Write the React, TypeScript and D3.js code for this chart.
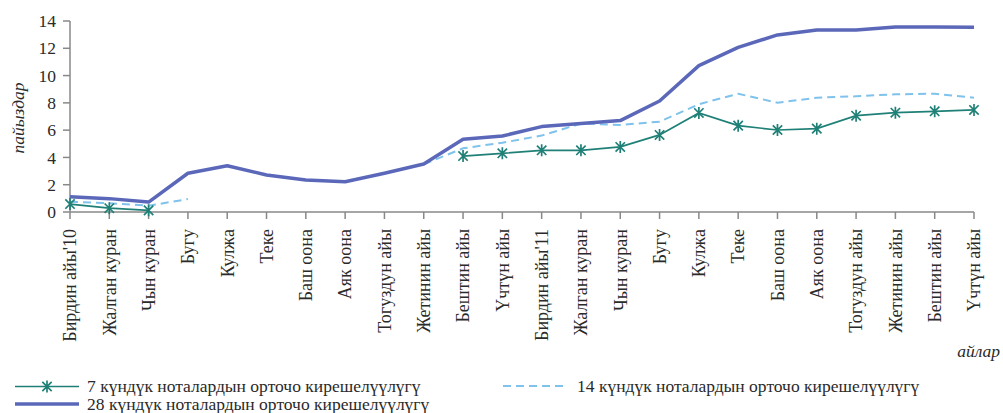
import React from "react";
import * as d3 from "d3";

const months: string[] = [
  "Бирдин айы'10", "Жалган куран", "Чын куран", "Бугу", "Кулжа", "Теке",
  "Баш оона", "Аяк оона", "Тогуздун айы", "Жетинин айы", "Бештин айы", "Үчтүн айы",
  "Бирдин айы'11", "Жалган куран", "Чын куран", "Бугу", "Кулжа", "Теке",
  "Баш оона", "Аяк оона", "Тогуздун айы", "Жетинин айы", "Бештин айы", "Үчтүн айы",
];

const yield7: (number | null)[] = [
  0.58, 0.28, 0.12, null, null, null, null, null, null, null,
  4.1, 4.3, 4.52, 4.52, 4.77, 5.65, 7.26, 6.33, 6.01, 6.11, 7.06, 7.28, 7.38, 7.48,
];

const yield14: (number | null)[] = [
  0.76, 0.64, 0.46, 0.95, null, null, null, null, null, 3.5,
  4.67, 5.08, 5.6, 6.48, 6.38, 6.62, 7.9, 8.67, 8.01, 8.38, 8.48, 8.63, 8.67, 8.38,
];

const yield28: number[] = [
  1.12, 0.98, 0.73, 2.84, 3.39, 2.71, 2.35, 2.22, 2.84, 3.52,
  5.33, 5.57, 6.26, 6.48, 6.7, 8.14, 10.73, 12.07, 12.98, 13.34, 13.34, 13.56, 13.56, 13.54,
];

const yTicks: number[] = [0, 2, 4, 6, 8, 10, 12, 14];

const legend7 = "7 күндүк ноталардын орточо кирешелүүлүгү";
const legend14 = "14 күндүк ноталардын орточо кирешелүүлүгү";
const legend28 = "28 күндүк ноталардын орточо кирешелүүлүгү";
const yTitle = "пайыздар";
const xTitle = "айлар";

const W = 1003;
const H = 413;
const FONT = "Liberation Serif";
const C7 = "#1f8077";
const C14 = "#7fc2ec";
const C28 = "#5b68b9";
const AXIS = "#888888";
const TEXT = "#2a2a2a";

function StarX({ x, y, r = 6 }: { x: number; y: number; r?: number }) {
  const d = r * 0.78;
  return (
    <path
      d={`M${x},${y - r}L${x},${y + r}M${x - d},${y - d}L${x + d},${y + d}M${x - d},${y + d}L${x + d},${y - d}`}
      stroke={C7}
      strokeWidth={1.7}
      fill="none"
    />
  );
}

export default function App() {
  const x = d3
    .scalePoint<number>()
    .domain(months.map((_, i) => i))
    .range([70, 974]);
  const y = d3.scaleLinear().domain([0, 14]).range([212, 21]);

  const lineN = d3
    .line<number | null>()
    .defined((d) => d !== null)
    .x((_, i) => x(i) as number)
    .y((d) => y(d as number));

  const line28 = d3
    .line<number>()
    .x((_, i) => x(i) as number)
    .y((d) => y(d));

  const ts: React.CSSProperties = { fontFamily: FONT };

  return (
    <svg
      width={W}
      height={H}
      style={{ position: "absolute", left: 0, top: 0, background: "#fff", fontFamily: FONT }}
    >
      {/* y axis */}
      <line x1={70} x2={70} y1={y(14)} y2={y(0)} stroke={AXIS} strokeWidth={1.5} />
      {yTicks.map((t) => (
        <g key={t}>
          <line x1={63} x2={70} y1={y(t)} y2={y(t)} stroke={AXIS} strokeWidth={1.5} />
          <text x={56} y={y(t)} dy="0.35em" textAnchor="end" fontSize={17.5} fill={TEXT} style={ts}>
            {t}
          </text>
        </g>
      ))}
      <text
        transform={`translate(18,${118}) rotate(-90)`}
        textAnchor="middle"
        dy="0.35em"
        fontSize={17.5}
        fontStyle="italic"
        fill={TEXT}
        style={ts}
      >
        {yTitle}
      </text>

      {/* x axis */}
      <line x1={70} x2={974} y1={y(0)} y2={y(0)} stroke={AXIS} strokeWidth={1.5} />
      {months.map((m, i) => (
        <g key={i}>
          <line x1={x(i)} x2={x(i)} y1={y(0)} y2={y(0) + 7} stroke={AXIS} strokeWidth={1.5} />
          <text
            transform={`translate(${x(i)},229) rotate(-90)`}
            textAnchor="end"
            dy="0.35em"
            fontSize={18}
            fill={TEXT}
            style={ts}
          >
            {m}
          </text>
        </g>
      ))}
      <text x={1000} y={357} textAnchor="end" fontSize={17.5} fontStyle="italic" fill={TEXT} style={ts}>
        {xTitle}
      </text>

      {/* series */}
      <path d={lineN(yield14) || ""} fill="none" stroke={C14} strokeWidth={2} strokeDasharray="8,5" />
      <path d={line28(yield28) || ""} fill="none" stroke={C28} strokeWidth={3.5} strokeLinejoin="round" />
      <path d={lineN(yield7) || ""} fill="none" stroke={C7} strokeWidth={1.7} />
      {yield7.map((v, i) =>
        v === null ? null : <StarX key={i} x={x(i) as number} y={y(v)} />
      )}

      {/* legend */}
      <line x1={15} x2={79} y1={386.5} y2={386.5} stroke={C7} strokeWidth={1.7} />
      <StarX x={47} y={386.5} />
      <text x={87} y={392} fontSize={17.5} fill={TEXT} style={ts}>{legend7}</text>
      <line x1={15} x2={79} y1={404} y2={404} stroke={C28} strokeWidth={3.5} />
      <text x={87} y={410} fontSize={17.5} fill={TEXT} style={ts}>{legend28}</text>
      <line x1={503} x2={563} y1={386} y2={386} stroke={C14} strokeWidth={2} strokeDasharray="8,5" />
      <text x={577} y={392} fontSize={17.5} fill={TEXT} style={ts}>{legend14}</text>
    </svg>
  );
}
